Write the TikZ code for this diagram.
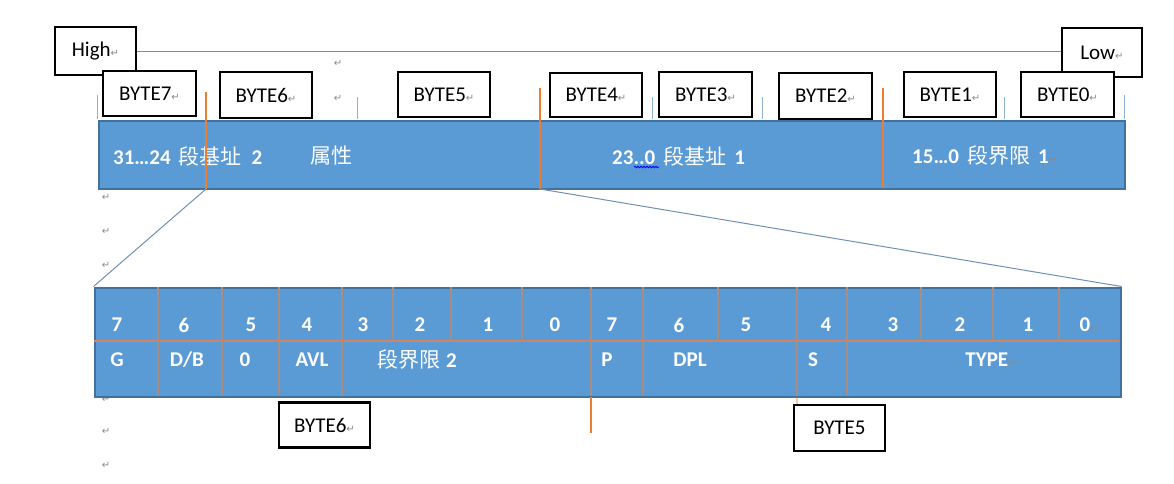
\documentclass[tikz,border=0pt]{standalone}
\usepackage{fontspec}
\setmainfont{Carlito}
\newfontfamily\cjk{Noto Sans CJK SC}
\newfontfamily\djv{DejaVu Sans}
\usetikzlibrary{decorations.pathmorphing}
\definecolor{barblue}{HTML}{5B9BD5}
\definecolor{baredge}{HTML}{41719C}
\definecolor{lineblue}{HTML}{6F8FB5}
\definecolor{tickblue}{HTML}{8DB0D6}
\definecolor{orng}{HTML}{ED7D31}
\definecolor{cellvcol}{HTML}{A98C82}
\definecolor{cellhcol}{HTML}{D08560}
\definecolor{pmgray}{HTML}{8A8A8A}
\newcommand\parmark{{\djv\mdseries\fontsize{10}{10}\selectfont\textcolor{pmgray}{↵}}}
\newcommand\zh[1]{{\cjk\mdseries\fontsize{21}{21}\selectfont #1}}
\tikzset{
  bytebox/.style={draw=black, line width=2.6pt, fill=white, inner sep=0pt,
    font=\fontsize{21}{21}\selectfont},
  wtext/.style={text=white, font=\bfseries\fontsize{21}{21}\selectfont, inner sep=0pt},
  bar/.style={draw=baredge, line width=2pt, fill=barblue, inner sep=0pt},
  pmark/.style={inner sep=0pt},
  thinline/.style={draw=lineblue, line width=1pt},
  tick/.style={draw=tickblue, line width=1pt},
  orline/.style={draw=orng, line width=1.3pt},
  cellv/.style={draw=cellvcol, line width=1.4pt},
  cellh/.style={draw=cellhcol, line width=1.4pt},
}
\begin{document}
\begin{tikzpicture}[x=1pt, y=-1pt]
\useasboundingbox (0,0) rectangle (1174,483);

% High / Low
\node[bytebox, minimum width=81pt, minimum height=48pt] (high) at (95.5,51) {High\parmark};
\node[bytebox, minimum width=80pt, minimum height=49pt] (low) at (1102,52.5) {Low\parmark};
\draw[thinline] (high.east) -- (low.west |- high.east);

% stray paragraph marks
\node[pmark] (pm1) at (338,63) {\parmark};
\node[pmark] (pm2) at (338,98) {\parmark};
\node[pmark] (pm3) at (106,197) {\parmark};
\node[pmark] (pm4) at (106,231) {\parmark};
\node[pmark] (pm5) at (106,265) {\parmark};
\node[pmark] (pm6) at (106,399) {\parmark};
\node[pmark] (pm7) at (106,431) {\parmark};
\node[pmark] (pm8) at (106,465) {\parmark};

% ticks above top bar
\foreach \x/\y in {97/95,357/97,652/97,762/97,1004/97,1124/95}
  \draw[tick] (\x,\y) -- (\x,119);

% top bar
\node[bar, minimum width=1026pt, minimum height=68pt, anchor=north west] (topbar) at (97.5,119.5) {};

% byte boxes
\node[bytebox, minimum width=93pt, minimum height=45pt] (b7) at (149.5,93.5) {BYTE7\parmark};
\node[bytebox, minimum width=92pt, minimum height=46pt] (b6) at (266,95) {BYTE6\parmark};
\node[bytebox, minimum width=92pt, minimum height=45pt] (b5) at (444,94.5) {BYTE5\parmark};
\node[bytebox, minimum width=92pt, minimum height=44pt] (b4) at (596,95) {BYTE4\parmark};
\node[bytebox, minimum width=93pt, minimum height=45pt] (b3) at (705.5,94.5) {BYTE3\parmark};
\node[bytebox, minimum width=93pt, minimum height=46pt] (b2) at (825.5,96) {BYTE2\parmark};
\node[bytebox, minimum width=92pt, minimum height=45pt] (b1) at (950,94.5) {BYTE1\parmark};
\node[bytebox, minimum width=93pt, minimum height=45pt] (b0) at (1067.5,94.5) {BYTE0\parmark};

% top bar texts
\node[wtext, anchor=west] (t1) at (113,156) {31…24\hspace{8pt}\zh{段基址}\hspace{10pt}2};
\node[wtext, anchor=west] (t2) at (310,156) {\zh{属性}};
\node[wtext, anchor=west] (t3) at (612,156) {23..0\hspace{8pt}\zh{段基址}\hspace{8pt}1};
\node[wtext, anchor=west] (t4) at (912,156) {15…0\hspace{8pt}\zh{段界限}\hspace{8pt}1\parmark};
\draw[blue, line width=0.8pt, decorate, decoration={snake, amplitude=0.8pt, segment length=3pt}] (634,167) -- (659,167);

% orange separators in top bar
\coordinate (o1t) at (206,92);  \coordinate (o1b) at (206,189);
\coordinate (o2t) at (540,88);  \coordinate (o2b) at (540,189);
\coordinate (o3t) at (883,88);  \coordinate (o3b) at (883,188);
\draw[orline] (o1t) -- (o1b);
\draw[orline] (o2t) -- (o2b);
\draw[orline] (o3t) -- (o3b);

% bottom bar
\node[bar, minimum width=1026pt, minimum height=109pt, anchor=north west] (botbar) at (93.5,286.5) {};
\draw[thinline] (o1b) -- (botbar.north west);
\draw[thinline] (o2b) -- (botbar.north east);

% cell lines
\draw[cellh] (94,341) -- (1119,341);
\foreach \x in {158,222,279,342,591,643,797,847}
  \draw[cellv] (\x,287) -- (\x,395);
\foreach \x in {393,451,522,718,921,993,1059}
  \draw[cellv] (\x,287) -- (\x,341);
\draw[orline] (591,397) -- (591,433);
\draw[orline, draw opacity=0.4] (797,397) -- (797,404);

% bit numbers
\foreach \x/\t in {117/7,184/6,251/5,307/4,363/3,420/2,488/1,555/0,612/7,679/6,746/5,826/4,893/3,960/2,1028/1}
  \node[wtext] at (\x,325) {\t};
\node[wtext] (z0) at (1089,325) {0\parmark};

% field labels
\node[wtext] (fG) at (117,360) {G};
\node[wtext] (fDB) at (187,360) {D/B};
\node[wtext] (f0) at (245,360) {0};
\node[wtext] (fAVL) at (312,360) {AVL};
\node[wtext] (fLim) at (417,360) {\zh{段界限}\hspace{6pt}2};
\node[wtext] (fP) at (607,360) {P};
\node[wtext] (fDPL) at (690,360) {DPL};
\node[wtext] (fS) at (813,360) {S};
\node[wtext] (fTYPE) at (991,360) {TYPE\parmark};

% bottom byte boxes
\node[bytebox, minimum width=91pt, minimum height=45pt] (bb6) at (324.5,425) {BYTE6\parmark};
\node[bytebox, minimum width=91pt, minimum height=46pt] (bb5) at (839.5,428) {BYTE5};
\end{tikzpicture}
\end{document}
